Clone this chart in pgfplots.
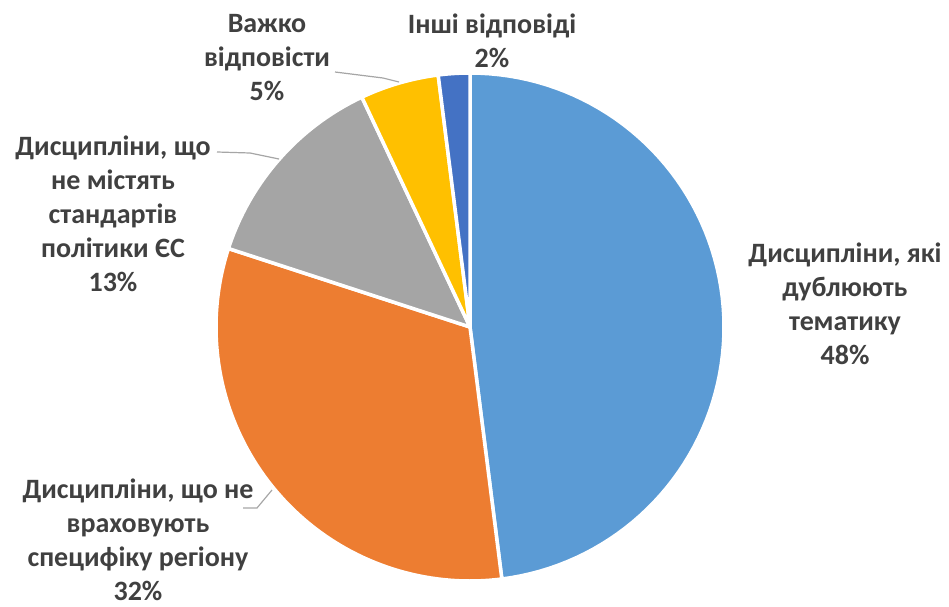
\documentclass[border=0pt]{standalone}
\usepackage{pgfplots}
\pgfplotsset{compat=1.18}
\usepackage{pgfplotstable}
\usepackage{fontspec}
\setmainfont{Carlito}
\definecolor{cA}{HTML}{5B9BD5}
\definecolor{cB}{HTML}{ED7D31}
\definecolor{cC}{HTML}{A5A5A5}
\definecolor{cD}{HTML}{FFC000}
\definecolor{cE}{HTML}{4472C4}
\definecolor{labc}{HTML}{404040}
\definecolor{leadc}{HTML}{A6A6A6}
\tikzset{lab/.style={font=\fontsize{28bp}{34bp}\selectfont\bfseries, text=labc, align=center, inner sep=0pt}}
% percentages of each slice, clockwise from 12 o'clock
\pgfplotstableread{
pct col
48 cA
32 cB
13 cC
5 cD
2 cE
}\piedata
\newcommand{\slice}[3]{%
  \addplot[fill=#3, draw=white, line width=3.5bp, line join=round, domain=#1:#2, samples=80, variable=\t]
    ({470+254*sin(\t)}, {327-254*cos(\t)}) -- (axis cs:470,327) -- cycle;
}
\begin{document}
\begin{tikzpicture}
\begin{axis}[
  width=949bp, height=607bp, scale only axis,
  xmin=0, xmax=949, ymin=0, ymax=607, y dir=reverse,
  hide axis, clip=false,
]
\path (axis cs:0,0) rectangle (axis cs:949,607);
\pgfplotstablegetrowsof{\piedata}
\pgfmathtruncatemacro{\nrows}{\pgfplotsretval-1}
\def\cum{0}
\pgfplotsforeachungrouped \i in {0,...,\nrows}{%
  \pgfplotstablegetelem{\i}{pct}\of{\piedata}\let\p\pgfplotsretval
  \pgfplotstablegetelem{\i}{col}\of{\piedata}\let\c\pgfplotsretval
  \pgfmathsetmacro{\a}{\cum*3.6}
  \pgfmathsetmacro{\b}{(\cum+\p)*3.6}
  \pgfmathsetmacro{\cum}{\cum+\p}
  \edef\temp{\noexpand\slice{\a}{\b}{\c}}
  \temp
}
% leader lines
\addplot[leadc, line width=1.2bp, no marks] coordinates {(335,72) (383,78) (399,82)};
\addplot[leadc, line width=1.2bp, no marks] coordinates {(217,152) (250,153) (279,159)};
\addplot[leadc, line width=1.2bp, no marks] coordinates {(243,508) (257,508) (272,490)};
% labels
\node[lab] at (axis cs:845,304) {Дисципліни, які\\дублюють\\тематику\\48\%};
\node[lab] at (axis cs:138,540) {Дисципліни, що не\\враховують\\специфіку регіону\\32\%};
\node[lab] at (axis cs:113,214) {Дисципліни, що\\не містять\\стандартів\\політики ЄС\\13\%};
\node[lab] at (axis cs:267,58) {Важко\\відповісти\\5\%};
\node[lab] at (axis cs:492,41) {Інші відповіді\\2\%};
\end{axis}
\end{tikzpicture}
\end{document}
